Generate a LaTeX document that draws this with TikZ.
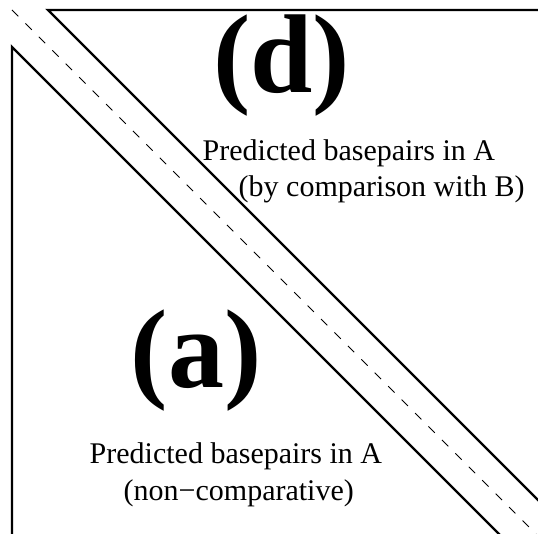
\documentclass[tikz,border=0pt]{standalone}
\usepackage{fontspec}
\setmainfont{Liberation Serif}
\usetikzlibrary{calc}

\tikzset{
  edge/.style={line width=2.4pt},
  diag/.style={line width=0.8pt, dash pattern=on 9pt off 10pt},
  panel/.style={font=\bfseries\fontsize{112}{112}\selectfont, inner sep=0pt, anchor=base},
  caption/.style={font=\fontsize{30}{30}\selectfont, inner sep=0pt, anchor=base west}
}

\begin{document}
\begin{tikzpicture}[x=1pt,y=-1pt]
  \useasboundingbox (0,0) rectangle (538,534);
  \clip (0,0) rectangle (538,534);

  % lower triangle (a)
  \coordinate (a1) at (12,47);
  \coordinate (a2) at (12,540);
  \coordinate (a3) at (505,540);
  \draw[edge] (a2) -- (a1) -- (a3);
  \node[panel] (pa) at (196,388) {(a)};
  \node[caption] (ta1) at (89.5,463) {Predicted basepairs in A};
  \node[caption] (ta2) at (123.5,500) {(non−comparative)};

  % upper triangle (d)
  \coordinate (d1) at (48,10);
  \coordinate (d2) at (545,10);
  \coordinate (d3) at (545,507);
  \draw[edge] (d2) -- (d1) -- (d3);
  \node[panel] (pd) at (281.5,92.5) {(d)};
  \node[caption] (td1) at (202.5,161) {Predicted basepairs in A};
  \node[caption] (td2) at (238.5,197) {(by comparison with B)};

  % diagonal
  \coordinate (m1) at (12,10);
  \coordinate (m2) at (536,534);
  \draw[diag] (m1) -- (m2);
\end{tikzpicture}
\end{document}
